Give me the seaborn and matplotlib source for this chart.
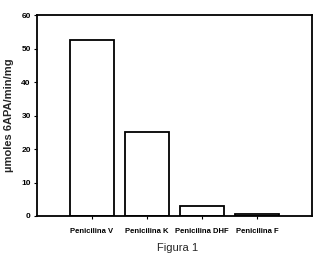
import matplotlib
matplotlib.use("Agg")
import matplotlib.pyplot as plt
import seaborn as sns
import pandas as pd

categories = ["Penicilina V", "Penicilina K", "Penicilina DHF", "Penicilina F"]
values = [52.7, 25.0, 3.0, 0.7]
y_ticks = [0, 10, 20, 30, 40, 50, 60]

sns.set_style("ticks")
plt.rcParams['font.family'] = ['Liberation Sans', 'DejaVu Sans']

df = pd.DataFrame({"cat": categories, "val": values})

fig = plt.figure(figsize=(3.22, 2.70), dpi=100)
ax = fig.add_axes([0.115, 0.2, 0.854, 0.744])
sns.barplot(data=df, x="cat", y="val", ax=ax, color="white", edgecolor="black",
            linewidth=1.3, width=0.8, saturation=1)
ax.set_xlim(-1, 4)
ax.set_ylim(0, 60)
ax.set_yticks(y_ticks)
ax.set_yticklabels([str(t) for t in y_ticks], fontsize=6, fontweight="bold")
ax.set_xticks(range(len(categories)))
ax.set_xticklabels(categories, fontsize=5.5, fontweight="bold")
ax.set_xlabel("")
ax.set_ylabel("µmoles 6APA/min/mg", fontsize=8, fontweight="bold", labelpad=5)
for s in ax.spines.values():
    s.set_visible(True)
    s.set_linewidth(1.3)
    s.set_color("black")
ax.tick_params(axis="both", direction="out", length=2.5, width=0.8, pad=2, colors="black")
ax.tick_params(axis="x", pad=6)
fig.text(0.55, 0.08, "Figura 1", ha="center", va="center", fontsize=8)
fig.savefig("out.png", dpi=100)
